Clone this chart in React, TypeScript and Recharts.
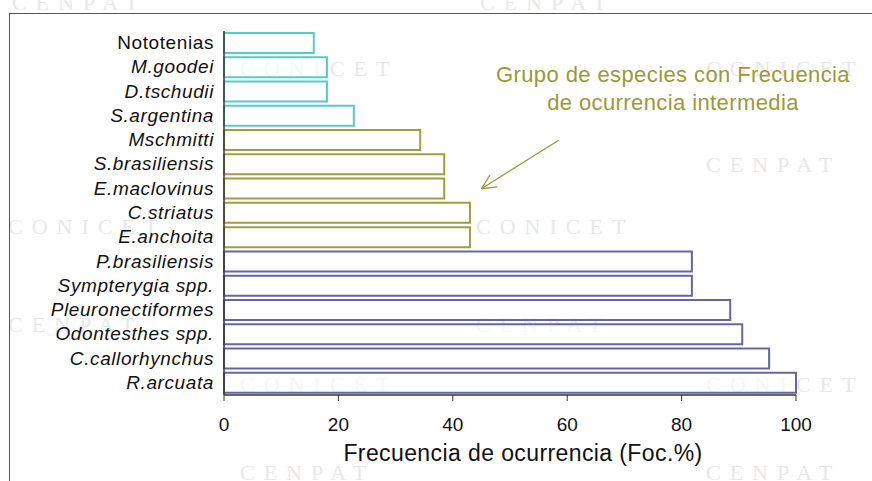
import React from 'react';
import { BarChart, Bar, XAxis, YAxis, Cell, ReferenceLine } from 'recharts';

// species, frequency of occurrence (Foc.%) and group (low / intermediate / high)
const species = [
  'Nototenias', 'M.goodei', 'D.tschudii', 'S.argentina', 'Mschmitti',
  'S.brasiliensis', 'E.maclovinus', 'C.striatus', 'E.anchoita', 'P.brasiliensis',
  'Sympterygia spp.', 'Pleuronectiformes', 'Odontesthes spp.', 'C.callorhynchus', 'R.arcuata',
];
const foc = [15.7, 18, 18, 22.7, 34.3, 38.5, 38.5, 43, 43, 81.8, 81.8, 88.5, 90.6, 95.3, 100];
const groups = [
  'low', 'low', 'low', 'low', 'mid', 'mid', 'mid', 'mid', 'mid',
  'high', 'high', 'high', 'high', 'high', 'high',
];
const uprightNames = ['Nototenias'];
const xTicks = [0, 20, 40, 60, 80, 100];

const groupColors: Record<string, string> = {
  low: '#55cccc',
  mid: '#9f9f40',
  high: '#6666a6',
};

const data = species.map((name, i) => ({ name, foc: foc[i], group: groups[i] }));

const font = '"Liberation Sans", Arial, sans-serif';
const olive = '#9a9a38';

// faint background watermarks of the source slide
const watermarks = [
  { t: 'CENPAT', x: 12, y: -10 }, { t: 'CENPAT', x: 480, y: -10 },
  { t: 'CONICET', x: 240, y: 56 }, { t: 'CONICET', x: 706, y: 56 },
  { t: 'CENPAT', x: 706, y: 152 },
  { t: 'CONICET', x: 8, y: 214 }, { t: 'CONICET', x: 476, y: 214 },
  { t: 'CENPAT', x: 8, y: 312 }, { t: 'CENPAT', x: 476, y: 312 },
  { t: 'CONICET', x: 240, y: 372 }, { t: 'CONICET', x: 706, y: 372 },
  { t: 'CENPAT', x: 240, y: 460 }, { t: 'CENPAT', x: 706, y: 460 },
];

const YTick = (props: any) => {
  const { x, y, payload } = props;
  const upright = uprightNames.includes(payload.value);
  return (
    <text
      x={x - 2}
      y={y}
      dy={6}
      textAnchor="end"
      fontFamily={font}
      fontSize={19}
      letterSpacing={0.6}
      fontStyle={upright ? 'normal' : 'italic'}
      fill="#111"
    >
      {payload.value}
    </text>
  );
};

const Arrow = (props: any) => {
  const { x1, y1, x2, y2 } = props;
  if (x1 == null) return <g />;
  const a = Math.atan2(y2 - y1, x2 - x1);
  const len = 16;
  const spread = 0.45;
  const p1 = [x2 - len * Math.cos(a - spread), y2 - len * Math.sin(a - spread)];
  const p2 = [x2 - len * Math.cos(a + spread), y2 - len * Math.sin(a + spread)];
  return (
    <g stroke={olive} strokeWidth={1.3} fill="none">
      <line x1={x1} y1={y1} x2={x2} y2={y2} />
      <line x1={p1[0]} y1={p1[1]} x2={x2} y2={y2} />
      <line x1={p2[0]} y1={p2[1]} x2={x2} y2={y2} />
    </g>
  );
};

export default function App() {
  return (
    <div style={{ position: 'absolute', left: 0, top: 0, width: 872, height: 481, background: '#fff', overflow: 'hidden' }}>
      {watermarks.map((w, i) => (
        <div
          key={i}
          style={{
            position: 'absolute', left: w.x, top: w.y, fontFamily: '"Liberation Serif", serif',
            fontSize: 22, letterSpacing: 9, color: '#e8e8e8', whiteSpace: 'nowrap',
          }}
        >
          {w.t}
        </div>
      ))}
      <div style={{ position: 'absolute', left: 9, top: 13, width: 870, height: 470, borderTop: '1.5px solid #555', borderLeft: '1.5px solid #555' }} />
      <div style={{ position: 'absolute', left: 0, top: 0 }}>
        <BarChart
          width={872}
          height={481}
          data={data}
          layout="vertical"
          margin={{ top: 31, right: 76, left: 9, bottom: 0 }}
          barCategoryGap={2}
        >
          <XAxis
            type="number"
            domain={[0, 100]}
            ticks={xTicks}
            tickSize={6}
            tickMargin={17}
            height={86}
            axisLine={{ stroke: '#333', strokeWidth: 1.5 }}
            tickLine={{ stroke: '#333' }}
            tick={{ fontFamily: font, fontSize: 19, fill: '#111' }}
            label={{
              value: 'Frecuencia de ocurrencia (Foc.%)',
              position: 'insideBottom',
              offset: 20,
              dx: 13,
              style: { fontFamily: font, fontSize: 23, letterSpacing: 0.4, fill: '#111' },
            }}
          />
          <YAxis
            type="category"
            dataKey="name"
            width={215}
            axisLine={{ stroke: '#333', strokeWidth: 1.5 }}
            tickLine={false}
            tick={<YTick />}
            interval={0}
          />
          <Bar dataKey="foc" fill="#fff" fillOpacity={0.6} strokeWidth={2} isAnimationActive={false}>
            {data.map((d, i) => (
              <Cell key={i} stroke={groupColors[d.group]} />
            ))}
          </Bar>
          <ReferenceLine
            segment={[{ x: 58.5, y: 'Mschmitti' }, { x: 45, y: 'E.maclovinus' }]}
            shape={<Arrow />}
            ifOverflow="visible"
          />
        </BarChart>
      </div>
      <div
        style={{
          position: 'absolute', left: 423, top: 61, width: 500, textAlign: 'center',
          fontFamily: font, fontSize: 22, letterSpacing: 0.4, lineHeight: '28px', color: olive,
        }}
      >
        Grupo de especies con Frecuencia
        <br />
        de ocurrencia intermedia
      </div>
    </div>
  );
}
